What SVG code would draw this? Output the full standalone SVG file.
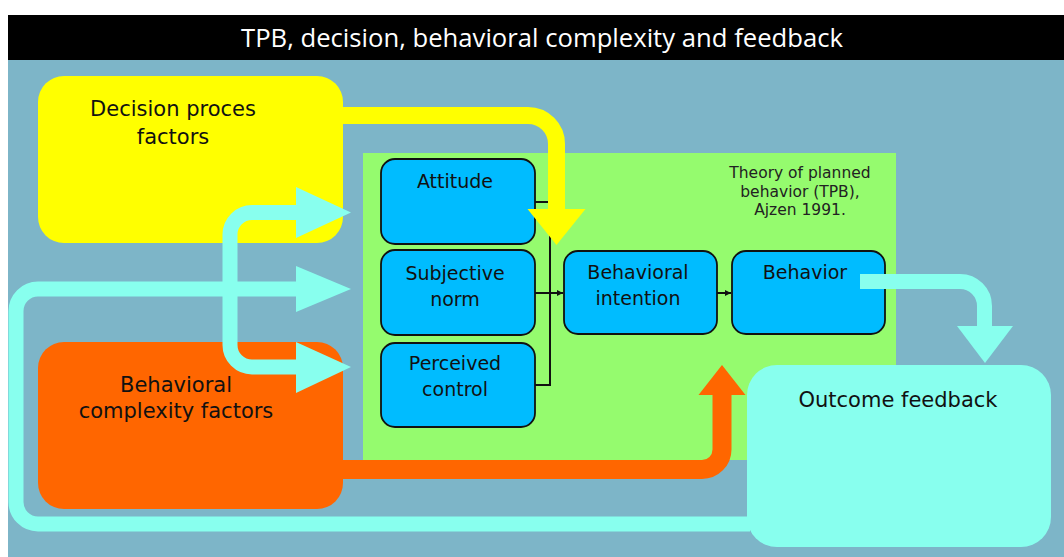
<svg xmlns="http://www.w3.org/2000/svg" width="1064" height="557" viewBox="0 0 1064 557">
<style>
.lbl{font-family:"DejaVu Sans",Verdana,sans-serif;fill:#111;text-anchor:middle}
.big{font-size:21px}
.nd{font-size:19px}
.small{font-size:15.5px;fill:#222}
.node{fill:#00BCFF;stroke:#111;stroke-width:1.8}
.cy{fill:none;stroke:#88FFEE;stroke-width:15}
.thin{fill:none;stroke:#111;stroke-width:2}
</style>
<defs>
<marker id="ah" markerWidth="8" markerHeight="8" refX="6" refY="4" orient="auto" markerUnits="userSpaceOnUse">
<path d="M0,1 L6,4 L0,7 Z" fill="#111"/>
</marker>
</defs>
<rect x="0" y="0" width="1064" height="557" fill="#ffffff"/>
<rect x="8" y="60" width="1056" height="497" fill="#7DB5C8"/>
<g id="title">
<rect x="8" y="15" width="1056" height="45" fill="#000"/>
<text x="542" y="47" font-family="'Open Sans','Noto Sans',sans-serif" font-size="26" fill="#fff" text-anchor="middle" textLength="602" lengthAdjust="spacingAndGlyphs">TPB, decision, behavioral complexity and feedback</text>
</g>
<g id="tpb">
<rect x="363" y="153" width="533" height="307" fill="#95FB6E"/>
<text class="lbl small" x="800" y="178">Theory of planned</text>
<text class="lbl small" x="800" y="197">behavior (TPB),</text>
<text class="lbl small" x="800" y="215">Ajzen 1991.</text>
</g>
<g id="decision">
<rect x="38" y="76" width="305" height="167" rx="26" fill="#FFFF00"/>
<text class="lbl big" x="173" y="116">Decision proces</text>
<text class="lbl big" x="173" y="144">factors</text>
</g>
<g id="complexity">
<rect x="38" y="342" width="305" height="167" rx="26" fill="#FF6600"/>
<text class="lbl big" x="176" y="392">Behavioral</text>
<text class="lbl big" x="176" y="418">complexity factors</text>
</g>
<g id="feedback">
<rect x="747" y="365" width="304" height="182" rx="30" fill="#88FFEE"/>
<text class="lbl big" x="898" y="407">Outcome feedback</text>
</g>
<g id="attitude">
<rect class="node" x="381" y="159" width="154" height="85" rx="14"/>
<text class="lbl nd" x="455" y="188">Attitude</text>
</g>
<g id="norm">
<rect class="node" x="381" y="250" width="154" height="85" rx="14"/>
<text class="lbl nd" x="455" y="280">Subjective</text>
<text class="lbl nd" x="455" y="306">norm</text>
</g>
<g id="control">
<rect class="node" x="381" y="343" width="154" height="84" rx="14"/>
<text class="lbl nd" x="455" y="370">Perceived</text>
<text class="lbl nd" x="455" y="396">control</text>
</g>
<g id="intention">
<rect class="node" x="564" y="251" width="153" height="83" rx="14"/>
<text class="lbl nd" x="638" y="279">Behavioral</text>
<text class="lbl nd" x="638" y="305">intention</text>
</g>
<g id="behavior">
<rect class="node" x="732" y="251" width="153" height="83" rx="14"/>
<text class="lbl nd" x="805" y="279">Behavior</text>
</g>
<g id="connectors">
<path class="thin" d="M535 202 H550 V385 H535" stroke="#2E4A26"/>
<path class="thin" d="M535 293 H563" marker-end="url(#ah)"/>
<path class="thin" d="M717 293 H731" marker-end="url(#ah)"/>
<path fill="none" stroke="#FFFF00" stroke-width="17" d="M342 115.5 H528 A28.5 28.5 0 0 1 556.5 144 V210"/>
<polygon fill="#FFFF00" points="527.5,209 585.5,209 556.5,245"/>
<path fill="none" stroke="#FF6600" stroke-width="19" d="M342 469.5 H702 A20 20 0 0 0 722 449.5 V394"/>
<polygon fill="#FF6600" points="698.5,395 745.5,395 722,365"/>
<path class="cy" d="M750 524 H38 A22 22 0 0 1 16 502 V311 A22 22 0 0 1 38 289 H297"/>
<polygon fill="#88FFEE" points="296,266 351,289 296,312"/>
<path class="cy" d="M297 212.5 H252 A22 22 0 0 0 230 234.5 V345 A22 22 0 0 0 252 367 H297"/>
<polygon fill="#88FFEE" points="296,187 351,212.5 296,238"/>
<polygon fill="#88FFEE" points="296,342 351,367 296,393"/>
<path class="cy" stroke-width="17" d="M860 281.5 H960 A24.5 24.5 0 0 1 984.5 306 V327"/>
<polygon fill="#88FFEE" points="957,326 1013,326 985,363"/>
</g>
</svg>
